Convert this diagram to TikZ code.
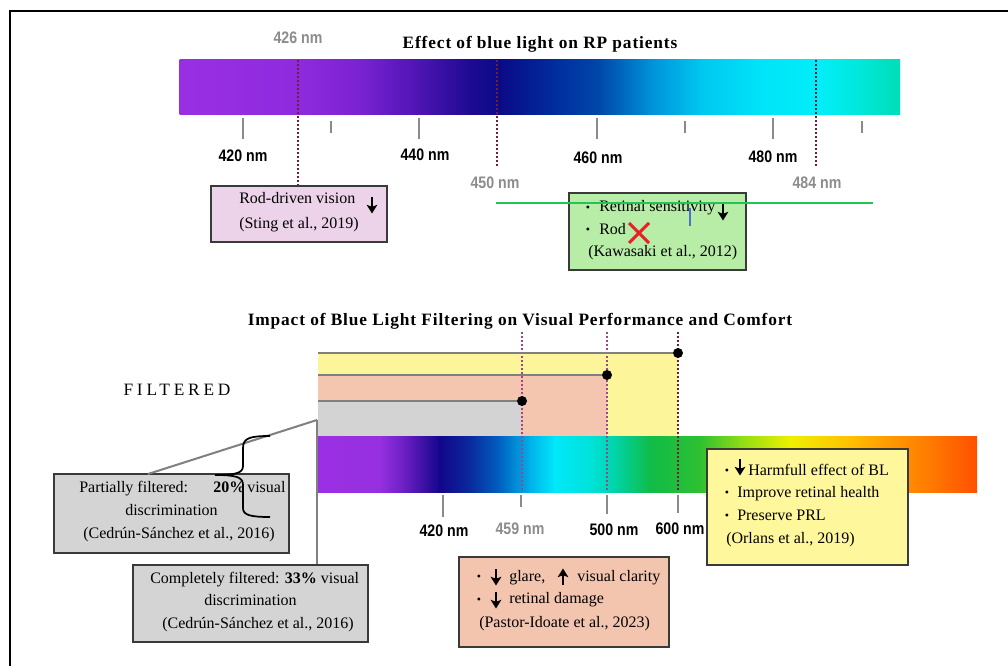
\documentclass[tikz,border=0pt]{standalone}
\usepackage{fontspec}
\setmainfont{Liberation Serif}
\newfontfamily\labf{Liberation Sans}[FakeStretch=0.85]
\newfontfamily\titlef{Liberation Serif}[LetterSpace=5]
\newfontfamily\spcf{Liberation Serif}[LetterSpace=22]
\usetikzlibrary{arrows.meta,calc,fit}
\definecolor{t0}{HTML}{9A2FE2}\definecolor{t1}{HTML}{8E2ADE}\definecolor{t2}{HTML}{7A22D2}
\definecolor{t3}{HTML}{4C14B2}\definecolor{t4}{HTML}{1E0A92}\definecolor{t5}{HTML}{0A0A86}
\definecolor{t6}{HTML}{0030A0}\definecolor{t7}{HTML}{0048AA}\definecolor{t8}{HTML}{0090D8}
\definecolor{t9}{HTML}{00C6F0}\definecolor{t10}{HTML}{00E4F8}\definecolor{t11}{HTML}{00EEF8}
\definecolor{t12}{HTML}{00E8DA}\definecolor{t13}{HTML}{00DDB8}
\definecolor{b0}{HTML}{9B30E3}\definecolor{b1}{HTML}{9530E0}\definecolor{b2}{HTML}{6A1EC2}
\definecolor{b3}{HTML}{12068C}\definecolor{b4}{HTML}{0A2A9C}\definecolor{b5}{HTML}{0062C2}
\definecolor{b6}{HTML}{00B2EA}\definecolor{b7}{HTML}{00E8FA}\definecolor{b8}{HTML}{00E2DA}
\definecolor{b9}{HTML}{00D4A8}\definecolor{b10}{HTML}{10BC48}\definecolor{b11}{HTML}{2EC032}
\definecolor{b12}{HTML}{8CDC14}\definecolor{b13}{HTML}{EEF000}\definecolor{b14}{HTML}{FFC000}
\definecolor{b15}{HTML}{FFA200}\definecolor{b16}{HTML}{FF7A00}\definecolor{b17}{HTML}{FF5000}
\definecolor{pinkc}{HTML}{ECD3EA}
\definecolor{greenc}{HTML}{B7EDA6}
\definecolor{grayc}{HTML}{D4D4D4}
\definecolor{salmonc}{HTML}{F4C5AE}
\definecolor{yellowc}{HTML}{FFF79B}
\definecolor{bandy}{HTML}{FDF59A}
\definecolor{bands}{HTML}{F4C5AF}
\definecolor{bandg}{HTML}{D3D3D3}
\definecolor{boxline}{HTML}{3A3A3A}
\definecolor{tickgray}{HTML}{8A8A8A}
\definecolor{labgray}{HTML}{8C8C8C}
\definecolor{maroon}{HTML}{6E1F3A}
\definecolor{magdot}{HTML}{A0448E}
\definecolor{lineg}{HTML}{22C458}
\definecolor{xred}{HTML}{E8202A}
\definecolor{cursorb}{HTML}{5070D0}
\definecolor{conng}{HTML}{808080}
\begin{document}
\begin{tikzpicture}[x=0.75pt,y=-0.75pt,
  box/.style={draw=boxline, line width=1pt, inner sep=0pt},
  txt/.style={inner sep=0pt, anchor=west, text height=8pt, text depth=2.5pt, font=\fontsize{12}{14}\selectfont},
  ctxt/.style={txt, anchor=center},
  bul/.style={inner sep=0pt, font=\fontsize{9}{9}\selectfont},
  lab/.style={inner sep=0pt, font=\labf\bfseries\fontsize{12.5}{14}\selectfont},
  glab/.style={lab, text=labgray},
  ttl/.style={inner sep=0pt, font=\titlef\bfseries\fontsize{13}{15}\selectfont},
  tick/.style={draw=tickgray, line width=1.5pt},
  dotline/.style={line width=1.5pt, dash pattern=on 1.5pt off 1.5pt},
  bandline/.style={draw=conng, line width=2pt},
  dot/.style={circle, fill=black, inner sep=0pt, minimum size=7.5pt},
  conn/.style={draw=conng, line width=1.5pt},
  arrst/.style={line width=1.8pt, -{Stealth[length=6.5pt,width=8pt,inset=1.5pt]}},
  dnar/.pic={\draw[arrst] (0,-8) -- (0,8.5);},
  upar/.pic={\draw[arrst] (0,8) -- (0,-8.5);},
  redx/.pic={\draw[xred, line width=2.2pt] (-10,-10) -- (10,10) (-10,10) -- (10,-10);}
]
\useasboundingbox (0,0) rectangle (1008,666);
\fill[white] (0,0) rectangle (1008,666);
% frame
\draw[line width=1.5pt] (10,666) -- (10,11) -- (1008,11);

% ---------- top spectrum ----------
\foreach \xa/\xb/\ca/\cb in {180/300/t0/t1,300/360/t1/t2,360/420/t2/t3,420/470/t3/t4,470/500/t4/t5,500/560/t5/t6,560/600/t6/t7,600/650/t7/t8,650/700/t8/t9,700/760/t9/t10,760/820/t10/t11,820/860/t11/t12}
  \shade[left color=\ca, right color=\cb] (\xa-0.5,60) rectangle (\xb+0.5,115);
\shade[left color=t12, right color=t13] (859.5,60) rectangle (900,115);

\node[ttl] (title1) at (540,44) {Effect of blue light on RP patients};

% ticks
\foreach \x in {243,419,597,773} \draw[tick] (\x,118) -- (\x,139);
\foreach \x in {331,685,862} \draw[tick] (\x,121) -- (\x,133);
\node[lab] (l420) at (243,156) {420 nm};
\node[lab] (l440) at (425,155) {440 nm};
\node[lab] (l460) at (598,158) {460 nm};
\node[lab] (l480) at (773,157) {480 nm};

\node[glab] (g426) at (298,38) {426 nm};
\node[glab] (g450) at (495,183) {450 nm};
\node[glab] (g484) at (817,183) {484 nm};

% pink box
\node[box, fill=pinkc, fit={(211,186) (387,242)}] (pinkbox) {};
\coordinate (d1top) at (298,60);
\coordinate (d2top) at (497,60);
\coordinate (d2bot) at (497,167);
\coordinate (d3top) at (816,60);
\coordinate (d3bot) at (816,168);
\draw[dotline, maroon] (d1top) -- (d1top |- pinkbox.north);
\draw[dotline, maroon] (d2top) -- (d2bot);
\draw[dotline, maroon] (d3top) -- (d3bot);
\node[txt] (p1) at (239,200) {Rod-driven vision};
\pic at (372,205) {dnar};
\node[txt] (p2) at (239,225) {(Sting et al., 2019)};

% green box
\node[box, fill=greenc, fit={(569,193) (746,270)}] (greenbox) {};
\node[bul] at (588,209) {•};
\node[txt] (gr1) at (599,208) {Retinal sensitivity};
\pic at (723,212) {dnar};
\node[bul] at (588,231) {•};
\node[txt] (gr2) at (599,231) {Rod};
\pic at (639,233) {redx};
\node[txt] (gr3) at (588,253) {(Kawasaki et al., 2012)};
\coordinate (gl1) at (496,203);
\coordinate (gl2) at (873,203);
\draw[lineg, line width=1.5pt] (gl1) -- (gl2);
\draw[cursorb, line width=0.8pt] (690,208) -- (690,226);

% ---------- bottom ----------
\node[ttl] (title2) at (520,321) {Impact of Blue Light Filtering on Visual Performance and Comfort};
\node[inner sep=0pt, font=\spcf\fontsize{13}{15}\selectfont] (filt) at (177,390) {FILTERED};

% bands
\fill[bandy] (318,353) rectangle (678,437);
\fill[bands] (318,375) rectangle (607,437);
\fill[bandg] (318,401) rectangle (521,437);

% bottom spectrum
\foreach \xa/\xb/\ca/\cb in {318/380/b0/b1,380/405/b1/b2,405/440/b2/b3,440/470/b3/b4,470/500/b4/b5,500/530/b5/b6,530/555/b6/b7,555/590/b7/b8,590/615/b8/b9,615/650/b9/b10,650/700/b10/b11,700/740/b11/b12,740/790/b12/b13,790/850/b13/b14,850/880/b14/b15,880/930/b15/b16}
  \shade[left color=\ca, right color=\cb] (\xa-0.5,437) rectangle (\xb+0.5,493);
\shade[left color=b16, right color=b17] (929.5,437) rectangle (977,493);

% dotted verticals
\draw[dotline, magdot] (522,332) -- (522,492);
\draw[dotline, magdot] (607,332) -- (607,492);
\draw[dotline, maroon] (678,332) -- (678,492);

% band top lines and dots
\node[dot] (dA) at (678,353) {};
\node[dot] (dB) at (607,375) {};
\node[dot] (dC) at (522,401) {};
\coordinate (bA) at (318,353);
\coordinate (bB) at (318,375);
\coordinate (bC) at (318,401);
\draw[bandline] (bA) -- (dA);
\draw[bandline] (bB) -- (dB);
\draw[bandline] (bC) -- (dC);

% ticks & labels
\draw[tick] (443,495) -- (443,517);
\draw[tick] (521,495) -- (521,507);
\draw[tick] (607,495) -- (607,514);
\draw[tick] (678,495) -- (678,513);
\node[lab] (m420) at (444,531) {420 nm};
\node[glab] (m459) at (520,529) {459 nm};
\node[lab] (m500) at (614,530) {500 nm};
\node[lab] (m600) at (680,529) {600 nm};

% gray boxes
\node[box, fill=grayc, fit={(54,474) (289,553)}] (gray1) {};
\node[box, fill=grayc, fit={(133,565) (368,642)}] (gray2) {};
\coordinate (corner) at (317,420);
\coordinate (g1top) at (148,474);
\draw[conn] (g1top) -- (corner);
\draw[conn] (corner) -- (corner |- gray2.north);

\node[txt] at (79,489) {Partially filtered:};
\node[txt] at (213,489) {\textbf{20\%}};
\node[txt] at (247,489) {visual};
\node[ctxt] at (171.5,512) {discrimination};
\node[txt] at (83,535) {(Cedrún-Sánchez et al., 2016)};

\node[txt] at (150,580) {Completely filtered: \textbf{33\%} visual};
\node[ctxt] at (250.5,602) {discrimination};
\node[txt] at (162,625) {(Cedrún-Sánchez et al., 2016)};

% brace
\draw[line width=1.3pt] (270,436) .. controls (250,436) and (243,438) .. (243,448) -- (243,466)
  .. controls (243,473) and (236,475) .. (215,475)
  .. controls (236,475) and (243,477) .. (243,485) -- (243,508)
  .. controls (243,515) and (250,517) .. (270,517);

% salmon box
\node[box, fill=salmonc, fit={(459,557) (669,647)}] (salbox) {};
\node[bul] at (479,578) {•};
\pic at (496,577) {dnar};
\node[txt] at (509,578) {glare,};
\pic at (563,577) {upar};
\node[txt] at (577,578) {visual clarity};
\node[bul] at (479,601) {•};
\pic at (496,600) {dnar};
\node[txt] at (509,600) {retinal damage};
\node[txt] at (479,624) {(Pastor-Idoate et al., 2023)};

% yellow box
\node[box, fill=yellowc, fit={(707,449) (908,565)}] (yelbox) {};
\node[bul] at (727,472) {•};
\pic at (740,467) {dnar};
\node[txt] at (748,472) {Harmfull effect of BL};
\node[bul] at (727,494) {•};
\node[txt] at (737,494) {Improve retinal health};
\node[bul] at (727,517) {•};
\node[txt] at (737,517) {Preserve PRL};
\node[txt] at (726,540) {(Orlans et al., 2019)};
\end{tikzpicture}
\end{document}
